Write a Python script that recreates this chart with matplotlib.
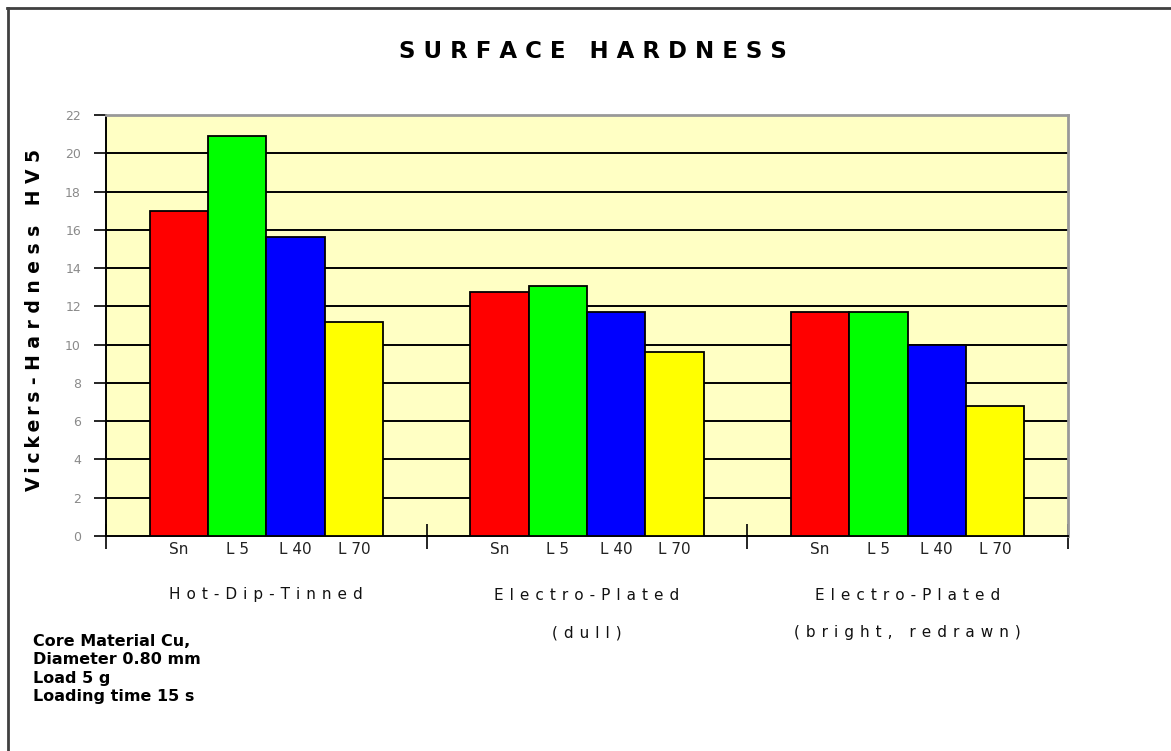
import numpy as np
import matplotlib.pyplot as plt
from matplotlib.transforms import blended_transform_factory
from matplotlib.lines import Line2D

# data
groups = ['Hot-Dip-Tinned', 'Electro-Plated', 'Electro-Plated']
group_sub = ['', '(dull)', '(bright, redrawn)']
series = ['Sn', 'L 5', 'L 40', 'L 70']
sn = [17.0, 12.75, 11.7]
l5 = [20.9, 13.05, 11.7]
l40 = [15.6, 11.7, 10.0]
l70 = [11.2, 9.6, 6.8]
colors = ['#ff0000', '#00ff00', '#0000ff', '#ffff00']
yticks = [0, 2, 4, 6, 8, 10, 12, 14, 16, 18, 20, 22]
notes = ['Core Material Cu,', 'Diameter 0.80 mm', 'Load 5 g', 'Loading time 15 s']


def spaced(s, sep=' '):
    return sep.join(list(s))


fig = plt.figure(figsize=(11.71, 7.51), dpi=100)
ax = fig.add_axes([0.0905, 0.2863, 0.8215, 0.5606])
ax.set_facecolor('#ffffc4')

# frame around the figure (left and top only)
fig.add_artist(Line2D([0.0072, 0.0072], [0, 0.99], transform=fig.transFigure, color='#404040', lw=2))
fig.add_artist(Line2D([0.0064, 1], [0.9893, 0.9893], transform=fig.transFigure, color='#404040', lw=2))

w = 0.182
gx = np.arange(len(groups)) + 0.5
vals = [sn, l5, l40, l70]
centers = []
for i, v in enumerate(vals):
    xs = gx + (i - 1.5) * w
    centers.extend(xs)
    ax.bar(xs, v, width=w, color=colors[i], edgecolor='black', linewidth=1.3, zorder=3)

ax.set_xlim(0, 3)
ax.set_ylim(0, 22)

# horizontal grid
ax.set_yticks(yticks)
ax.set_yticklabels([str(t) for t in yticks], color='#8a8a8a', fontsize=9)
for t in yticks[1:-1]:
    ax.axhline(t, color='black', lw=1.4, zorder=1)
ax.tick_params(axis='y', direction='out', length=9, width=1.2, pad=9)

# category boundaries as ticks, series names as minor labels
ax.set_xticks([0, 1, 2, 3])
ax.set_xticklabels([])
ax.tick_params(axis='x', which='major', direction='inout', length=18, width=1.2)
ax.set_xticks(sorted(centers), minor=True)
ax.set_xticklabels(series * len(groups), minor=True, fontsize=11, color='#222222')
ax.tick_params(axis='x', which='minor', length=0, pad=4)

for s in ['left', 'bottom']:
    ax.spines[s].set_linewidth(1.4)
for s in ['top', 'right']:
    ax.spines[s].set_color('#999999')
    ax.spines[s].set_linewidth(2)

tr = blended_transform_factory(ax.transData, fig.transFigure)
for x, g, sub in zip(gx, groups, group_sub):
    ax.text(x, 1 - 595 / 751, spaced(g, '\u2009\u2009'), transform=tr, ha='center', va='center',
            fontsize=11, color='#111111')
    if sub:
        ax.text(x, 1 - 633 / 751, spaced(sub, '\u2009\u2009'), transform=tr, ha='center', va='center',
                fontsize=11, color='#111111')

fig.text(593 / 1171, 1 - 52 / 751, spaced('SURFACE HARDNESS'), ha='center', va='center',
         fontsize=16.5, fontweight='bold')
ylabel = spaced('Vickers', '\u2009') + ' - ' + spaced('Hardness') + '   H V 5'
fig.text(35 / 1171, 1 - 320 / 751, ylabel,
         rotation=90, ha='center', va='center', fontsize=13.5, fontweight='bold')

for k, line in enumerate(notes):
    fig.text(33 / 1171, 1 - (641 + 18.5 * k) / 751, line, ha='left', va='center',
             fontsize=11.5, fontweight='bold', family='DejaVu Sans')

fig.savefig('out.png', dpi=100)
